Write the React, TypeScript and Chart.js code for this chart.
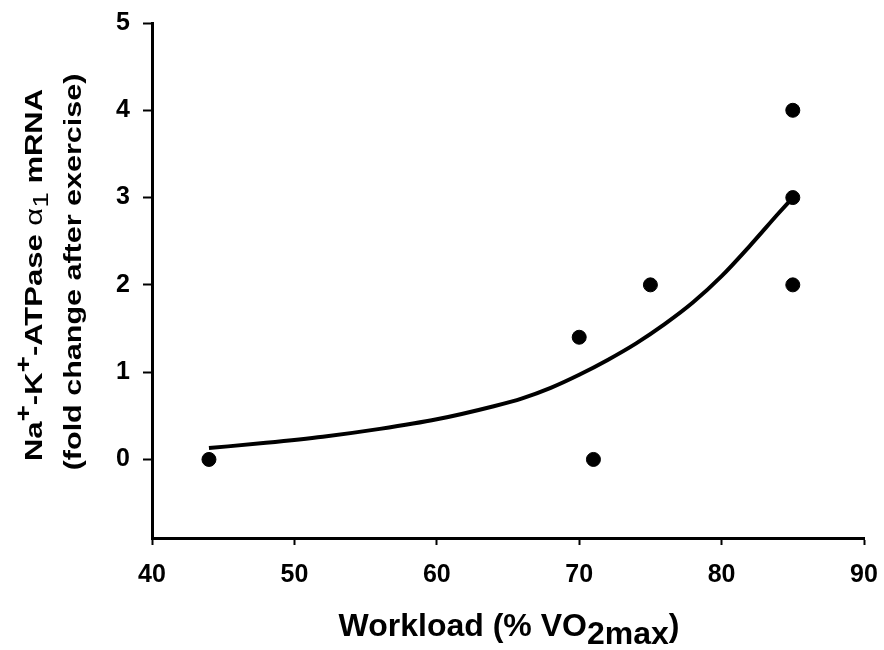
import React, { useEffect, useRef } from "react";
import { Chart, registerables } from "chart.js";

Chart.register(...registerables);

// Measured data points (workload % VO2max, fold change)
const pointX = [44, 70, 71, 75, 85, 85, 85];
const pointY = [0, 1.4, 0, 2, 4, 3, 2];

// Fitted curve
const curveX = [44, 48, 52, 56, 60, 64, 66, 68, 70, 72, 74, 76, 78, 80, 82, 84, 85];
const curveY = [0.13, 0.19, 0.26, 0.35, 0.46, 0.61, 0.7, 0.82, 0.97, 1.14, 1.33, 1.55, 1.8, 2.1, 2.45, 2.82, 3.0];

const xTicks = [40, 50, 60, 70, 80, 90];
const yTicks = [0, 1, 2, 3, 4, 5];

type Seg = { t: string; k?: "sup" | "sub"; sym?: boolean };

const yTitle1: Seg[] = [
  { t: "Na" }, { t: "+", k: "sup" }, { t: "-K" }, { t: "+", k: "sup" },
  { t: "-ATPase " }, { t: "α", sym: true }, { t: "1", k: "sub", sym: true }, { t: " mRNA" },
];
const yTitle2: Seg[] = [{ t: "(fold change after exercise)" }];
const xTitle: Seg[] = [{ t: "Workload (% VO" }, { t: "2max", k: "sub" }, { t: ")" }];

const FONT = "Arial, 'Liberation Sans', sans-serif";

function drawRich(ctx: CanvasRenderingContext2D, segs: Seg[], size: number, subScale: number, subDrop: number, supRise: number) {
  const fontFor = (s: Seg) => {
    const sz = s.k ? Math.round(size * subScale) : size;
    return `${s.sym ? "normal" : "bold"} ${sz}px ${FONT}`;
  };
  let total = 0;
  for (const s of segs) {
    ctx.font = fontFor(s);
    total += ctx.measureText(s.t).width;
  }
  let x = -total / 2;
  ctx.textBaseline = "middle";
  ctx.textAlign = "left";
  for (const s of segs) {
    ctx.font = fontFor(s);
    const dy = s.k === "sup" ? -supRise : s.k === "sub" ? subDrop : 0;
    ctx.fillText(s.t, x, dy);
    x += ctx.measureText(s.t).width;
  }
}

const titlesPlugin = {
  id: "richTitles",
  afterDraw(chart: any) {
    const ctx: CanvasRenderingContext2D = chart.ctx;
    ctx.save();
    ctx.fillStyle = "#000";
    // y title, two lines rotated (glyphs slightly compressed across)
    ctx.save();
    ctx.translate(35, 275);
    ctx.rotate(-Math.PI / 2);
    ctx.scale(1, 0.8);
    drawRich(ctx, yTitle1, 31, 0.9, 8, 13);
    ctx.restore();
    ctx.save();
    ctx.translate(74, 272);
    ctx.rotate(-Math.PI / 2);
    ctx.scale(1, 0.8);
    drawRich(ctx, yTitle2, 30.5, 0.85, 8, 12);
    ctx.restore();
    // x title
    ctx.save();
    ctx.translate(509, 627);
    drawRich(ctx, xTitle, 32, 1.0, 8, 10);
    ctx.restore();
    ctx.restore();
  },
};

const zeroPad = (s: any) => {
  s.paddingTop = 0;
  s.paddingBottom = 0;
  s.paddingLeft = 0;
  s.paddingRight = 0;
};

export default function App() {
  const ref = useRef<HTMLCanvasElement | null>(null);
  useEffect(() => {
    if (!ref.current) return;
    const chart = new Chart(ref.current, {
      type: "scatter",
      data: {
        datasets: [
          {
            data: curveX.map((x, i) => ({ x, y: curveY[i] })),
            showLine: true,
            borderColor: "#000",
            borderWidth: 4,
            pointRadius: 0,
            cubicInterpolationMode: "monotone",
            order: 2,
          } as any,
          {
            data: pointX.map((x, i) => ({ x, y: pointY[i] })),
            backgroundColor: "#000",
            borderColor: "#000",
            pointRadius: 7,
            order: 1,
          },
        ],
      },
      options: {
        responsive: false,
        animation: false,
        layout: { padding: { left: 0, right: 20, top: 23, bottom: 0 } },
        plugins: { legend: { display: false }, tooltip: { enabled: false } },
        scales: {
          x: {
            type: "linear",
            min: 40,
            max: 90,
            afterBuildTicks: (s: any) => {
              s.ticks = xTicks.map((v) => ({ value: v }));
            },
            afterFit: (s: any) => {
              s.height = 112;
              zeroPad(s);
            },
            border: { display: true, color: "#000", width: 3 },
            grid: { drawOnChartArea: false, drawTicks: true, tickLength: 7, tickWidth: 2, color: "#000" },
            ticks: { color: "#000", font: { family: FONT, size: 25, weight: "bold" }, padding: 15, maxRotation: 0 },
          },
          y: {
            type: "linear",
            min: -0.9,
            max: 5,
            afterBuildTicks: (s: any) => {
              s.ticks = yTicks.map((v) => ({ value: v }));
            },
            afterFit: (s: any) => {
              s.width = 152;
              zeroPad(s);
            },
            border: { display: true, color: "#000", width: 3 },
            grid: { drawOnChartArea: false, drawTicks: true, tickLength: 9, tickWidth: 2, color: "#000" },
            ticks: { color: "#000", font: { family: FONT, size: 25, weight: "bold" }, padding: 13 },
          },
        },
      },
      plugins: [titlesPlugin],
    });
    return () => chart.destroy();
  }, []);
  return (
    <div style={{ position: "absolute", left: 0, top: 0, width: 884, height: 650, background: "#fff" }}>
      <canvas ref={ref} width={884} height={650} style={{ width: 884, height: 650 }} />
    </div>
  );
}
